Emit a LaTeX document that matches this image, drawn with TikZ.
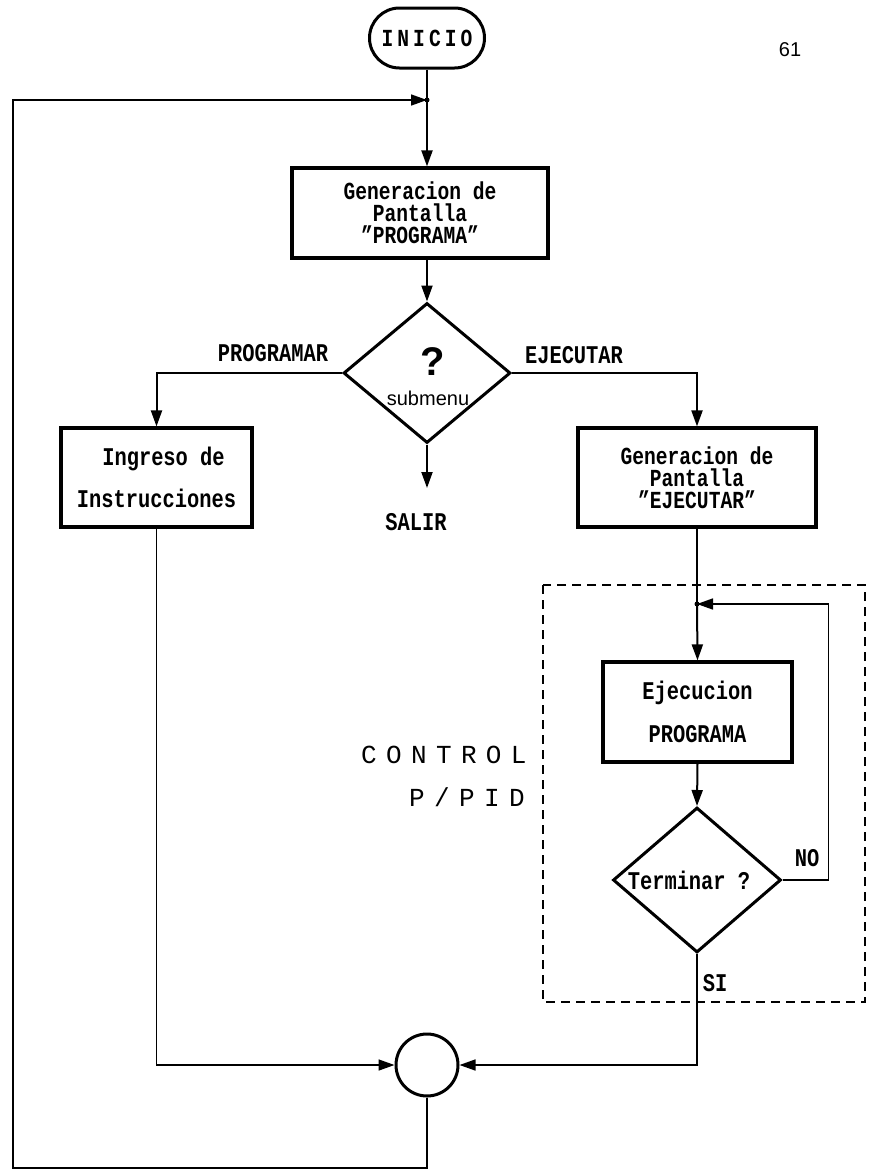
\documentclass[tikz,border=0pt]{standalone}
\usepackage{fontspec}
\usetikzlibrary{shapes.geometric,arrows.meta}
\newfontfamily\monof{Liberation Mono}[FakeStretch=0.8]
\newfontfamily\thinf{Liberation Mono}[LetterSpace=36]
\newfontfamily\sansf{Liberation Sans}
\begin{document}
\begin{tikzpicture}[x=1pt,y=-1pt,
  txt/.style={font=\monof\bfseries\fontsize{24.5}{22}\selectfont, align=center},
  box/.style={draw, line width=3.2pt, txt, inner sep=0pt},
  dia/.style={draw, diamond, line width=3pt, inner sep=0pt},
  startbox/.style={draw, line width=3pt, rounded corners=30pt, minimum width=115pt, minimum height=60pt, txt},
  circ/.style={draw, circle, line width=3pt, minimum size=62pt, inner sep=0pt},
  conn/.style={line width=2pt},
  arr/.style={conn, -{Triangle[length=16pt,width=11pt]}},
  thin/.style={line width=1.6pt},
  tarr/.style={thin, -{Triangle[length=16pt,width=11pt]}},
  lbl/.style={font=\monof\bfseries\fontsize{25.5}{25}\selectfont},
  dot/.style={fill, circle, inner sep=0pt, minimum size=5pt},
  dashbox/.style={line width=2.2pt, dash pattern=on 9pt off 6pt},
  ctlfont/.style={font=\thinf\fontsize{26}{26}\selectfont, anchor=west, inner sep=0pt}
]
\useasboundingbox (0,0) rectangle (875,1173);

% nodes
\node[startbox] (ini) at (427,38) {I\,N\,I\,C\,I\,O};
\coordinate (j1) at (427,100);
\node[box, minimum width=256pt, minimum height=90pt] (gen1) at (420,213) {Generacion de\\Pantalla\\”PROGRAMA”};
\node[dia, minimum width=167pt, minimum height=140pt] (d1) at (427,373) {};
\node[font=\sansf\bfseries\fontsize{40}{40}\selectfont] (q) at (433,362) {?};
\node[font=\sansf\fontsize{20}{20}\selectfont] (sub) at (428,398) {submenu};
\node[box, minimum width=191pt, minimum height=99pt, font=\monof\bfseries\fontsize{25.5}{42}\selectfont] (ing) at (156.5,477.5) {\hspace*{14pt}Ingreso de\\Instrucciones};
\node[box, minimum width=238pt, minimum height=99pt] (gen2) at (697,477.5) {Generacion de\\Pantalla\\”EJECUTAR”};
\coordinate (sal) at (427,488);
\node[lbl] (salir) at (416,522) {SALIR};
\node[lbl] (lprog) at (273,353) {PROGRAMAR};
\node[lbl] (lejec) at (574,355) {EJECUTAR};
\coordinate (j2) at (697,604);
\node[box, minimum width=189pt, minimum height=100pt, font=\monof\bfseries\fontsize{25.5}{43}\selectfont] (eje) at (697.5,712) {Ejecucion\\PROGRAMA};
\node[dia, minimum width=168pt, minimum height=145pt] (d2) at (697,880) {};
\node[txt, font=\monof\bfseries\fontsize{25.5}{25}\selectfont] (term) at (689,880) {Terminar ?};
\node[lbl] (lno) at (807,858) {NO};
\node[lbl] (lsi) at (715,983) {SI};
\node[circ] (c) at (427,1065) {};
\coordinate (bl) at (13,1168);
\coordinate (tl) at (13,100);
\node[ctlfont] (ctl) at (361,755) {CONTROL};
\node[ctlfont] (pid) at (409,797) {P/PID};
\node[font=\sansf\fontsize{20}{20}\selectfont] (pg) at (790,50) {61};

% dashed frame
\draw[dashbox] (543,585) rectangle (865,1002);

% connectors
\draw[arr] (ini.south) -- (ini.south |- gen1.north);
\draw[arr] (gen1.south -| d1.north) -- (d1.north);
\draw[arr] (d1.west) -| (ing.north);
\draw[arr] (d1.east) -| (gen2.north);
\draw[arr] (d1.south) -- (sal);
\draw[conn] (gen2.south) -- (j2);
\draw[arr] (j2) -- (eje.north);
\draw[arr] (eje.south) -- (d2.north);
\draw[tarr] (d2.east) -- ++(46,0) |- (j2);
\draw[tarr] (d2.south) |- (c.east);
\draw[tarr] (ing.south) |- (c.west);
\draw[tarr] (c.south) |- (bl) -- (tl) -- (j1);
\node[dot] at (j1) {};
\node[dot] at (j2) {};
\end{tikzpicture}
\end{document}
